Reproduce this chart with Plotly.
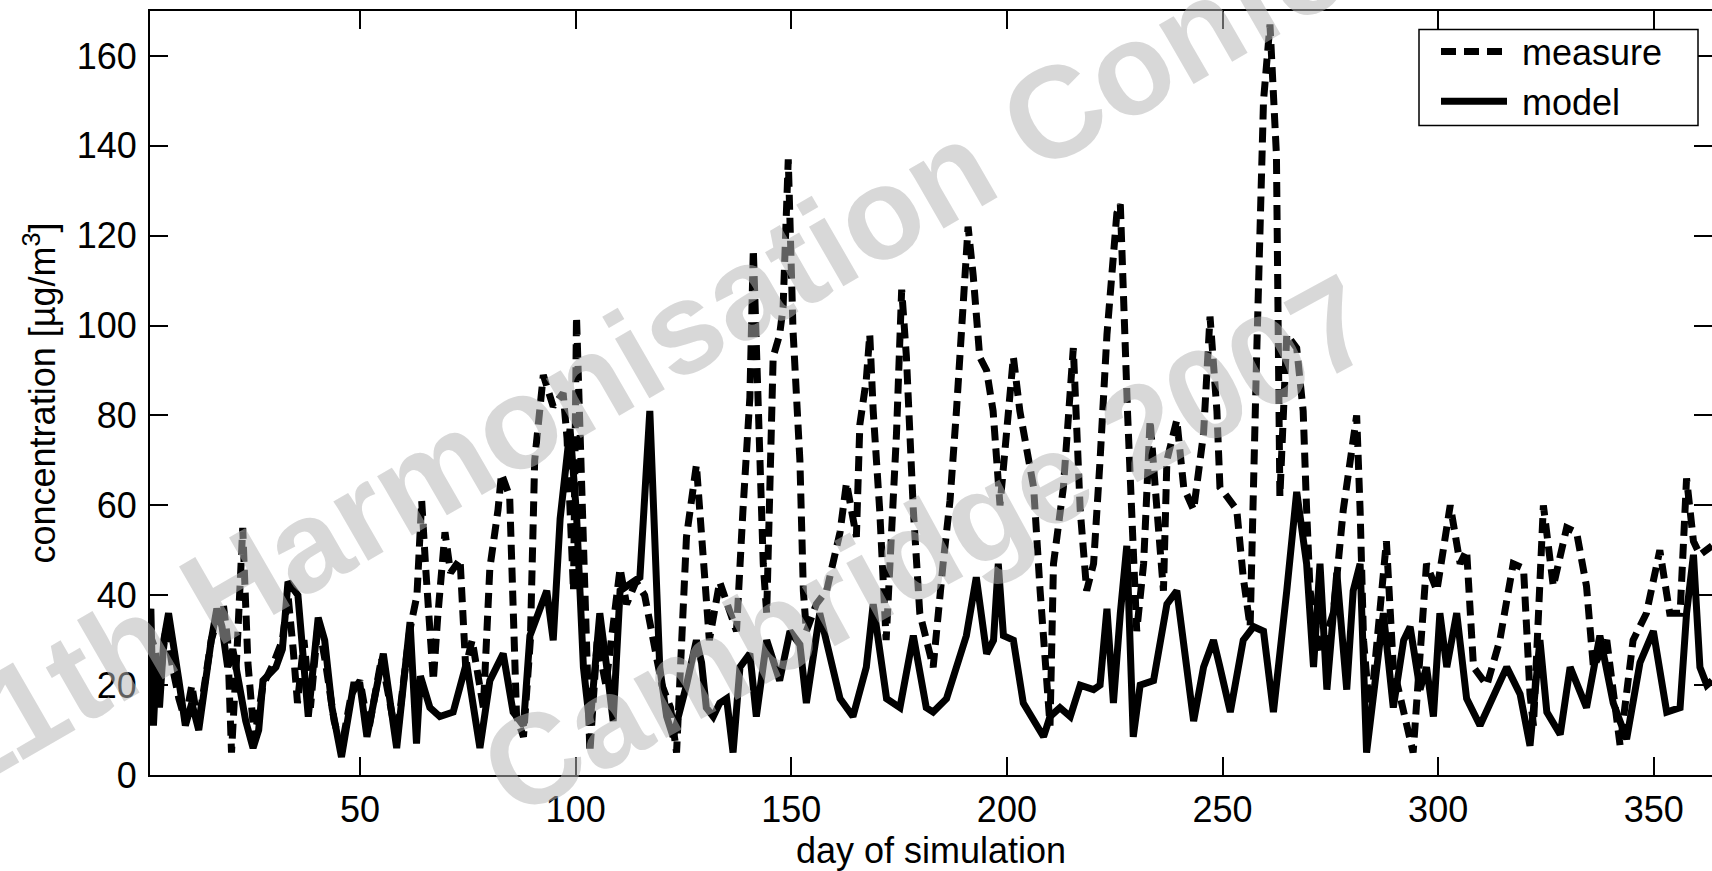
import plotly.graph_objects as go

# ---- data ----
meas_day = [1, 2.5, 3.5, 5, 6.5, 8, 9.5, 11, 12.5, 14,
            15.5, 17, 18.3, 19.3, 20.2, 21.5, 22.8, 24, 25.5, 27.5,
            30, 32, 33.3, 34.5, 35.5, 37, 38.5, 40.3, 42, 44,
            45.7, 48, 50, 52, 55, 58.5, 61.5, 63.2, 64.3, 65.3,
            67, 68, 69.7, 71, 73.2, 74.5, 76, 78.6, 80.1, 82,
            82.8, 84.7, 86.3, 87.9, 89.5, 90.5, 92.5, 94.8, 97.1, 98,
            99.5, 100.2, 101.8, 103.3, 105, 107, 110.3, 111.8, 114, 116,
            120, 122, 123.4, 125.7, 128, 129.5, 131, 133.4, 135, 137.3,
            138.8, 140.4, 141.2, 142.3, 143.5, 144.3, 145, 145.8, 147.3, 148.1,
            149.3, 150.4, 152, 152.8, 153.5, 155.8, 158.2, 161.3, 162.8, 165.1,
            165.9, 167.4, 168.2, 169, 170.5, 172, 174.4, 175.6, 176.7, 178.3,
            179.8, 182.9, 185.2, 186.8, 188.3, 189.9, 191, 192.2, 193.7, 195.3,
            196.8, 198.4, 201.5, 203, 204.6, 206.2, 207.7, 209.3, 210, 210.8,
            213.1, 215.4, 217, 218.5, 220.1, 221.6, 223.2, 225.5, 226.3, 228,
            230.1, 231.7, 233.2, 234.8, 236.3, 237.1, 239.4, 241, 243.3, 245.6,
            247.1, 248.7, 249.4, 251, 253.3, 254.8, 256.4, 257.9, 259.5, 261,
            262.5, 263.3, 264.9, 267.2, 268.7, 269.5, 270.3, 272.6, 275.7, 278,
            281.1, 281.9, 282.7, 284.2, 288, 289.6, 292.7, 294.2, 297.3, 299.7,
            302.8, 305.1, 306.6, 308.2, 311.3, 314.3, 317.4, 319.8, 321.3, 322.1,
            324.4, 326.7, 329.8, 332.1, 334.4, 336, 339.1, 342.2, 345.2, 348.3,
            351.4, 353.7, 356.1, 357.6, 359.2, 360.7, 363.5]
meas_val = [32, 28, 20, 33, 24, 17, 12, 20, 11, 22,
            30, 35, 38, 30, 5, 28, 55, 25, 8, 20,
            25, 30, 40, 28, 16, 30, 15, 34, 25, 12,
            6, 18, 21, 10, 26, 8, 32, 40, 61, 45,
            21, 35, 54, 45, 48, 24, 30, 15, 46, 59,
            67, 62, 13, 8.5, 30, 70, 89, 82, 85, 75,
            41, 102, 52, 5, 30, 20, 46, 38, 43, 40,
            20, 15, 5, 53, 69, 47, 30, 43, 38, 32,
            59, 84, 117, 81, 47, 36, 64, 93, 98, 104,
            137, 99, 70, 41, 32, 38, 41, 54, 65, 53,
            78, 88, 98, 81, 59, 30, 76, 108, 93, 59,
            36, 24, 47, 61, 81, 104, 122, 111, 93, 90,
            81, 60, 93, 81, 73, 64, 41, 19, 11, 47,
            64, 95, 59, 41, 47, 70, 98, 125, 127, 80,
            32, 47, 79, 59, 41, 70, 79, 64, 59, 76,
            102, 81, 64, 62, 59, 44, 33, 93, 150, 167,
            138, 62, 98, 95, 81, 59, 41, 27, 36, 59,
            80, 59, 30, 13, 52, 24, 11, 5, 47, 41,
            60, 47, 50, 24, 20, 30, 47, 46, 18, 11,
            60, 42, 55, 54, 42, 24, 30, 6.5, 30, 36,
            50, 36, 36, 66, 52, 49, 51]

model_day = [1, 1.5, 2.1, 2.8, 3.5, 4.5, 5.6, 7, 8, 9.5,
             11, 12.6, 14, 15.5, 16.8, 18, 19.3, 20.5, 22, 23.5,
             25.2, 26.5, 27.5, 30.5, 32, 33.3, 35.6, 38, 40.3, 41.8,
             43.5, 45.7, 48.5, 50, 51.6, 55.4, 58.5, 61.6, 63.1, 64,
             66.2, 68.5, 71.6, 74.7, 77.8, 80.1, 83.2, 85.5, 87.9, 89.4,
             93.3, 94.8, 96.4, 98.7, 100.2, 101.8, 103.3, 105.6, 107.2, 108.7,
             110.3, 114.9, 117.2, 118.8, 119.5, 121.1, 122.6, 125.7, 128, 129.2,
             130.3, 131.9, 133.4, 135, 136.5, 138.1, 140.4, 141.9, 144.3, 147.3,
             149.7, 152, 153.5, 156.6, 159.7, 161.3, 164.3, 167.4, 169, 172.1,
             175.2, 178.3, 181.3, 182.9, 186, 188.3, 190.6, 192.9, 195.3, 196.9,
             198, 199.2, 201.5, 203.8, 206.9, 208.5, 210, 212.3, 214.7, 217,
             220.1, 221.6, 223.2, 224.7, 226.3, 227.8, 229.3, 230.9, 234, 237.1,
             239.4, 241.7, 243.3, 245.6, 247.9, 249.4, 251.8, 254.8, 257.2, 259.5,
             261.8, 264.9, 267.2, 269.5, 271.1, 272.6, 274.2, 276.5, 278.8, 280.3,
             281.9, 283.4, 285, 287.3, 289.6, 292, 293.5, 295.8, 297.3, 298.9,
             300.4, 302, 304.3, 306.6, 309.7, 312, 315.9, 319, 321.3, 323.6,
             325.2, 328.3, 330.6, 334.4, 337.5, 340.6, 343.7, 346.8, 349.9, 353,
             356.1, 357.6, 359.2, 360.7, 362.3, 363.5]
model_val = [30, 37, 11, 25, 15, 30, 36, 28, 21, 11,
             16, 10, 20, 30, 37, 33, 24, 28, 20, 12,
             6, 10, 21, 24, 28, 43, 40, 13, 35, 30,
             15, 4, 20, 20, 8.5, 27, 6, 34, 7, 22,
             15, 13, 14, 25, 6, 21, 27, 14, 11, 31,
             41, 30, 57, 77, 58, 24, 11, 36, 24, 12,
             41, 44, 81, 47, 24, 13, 8.5, 20, 30, 25,
             15, 13, 16, 17, 5, 24, 27, 13, 30, 21,
             32, 29, 16, 36, 24, 17, 13, 24, 38, 17,
             15, 31, 15, 14, 17, 24, 31, 44, 27, 30,
             47, 31, 30, 16, 11, 8.5, 13, 15, 13, 20,
             19, 20, 37, 16, 36, 51, 8.5, 20, 21, 38,
             41, 24, 12, 24, 30, 24, 14, 30, 33, 32,
             14, 41, 63, 47, 24, 47, 19, 45, 19, 41,
             47, 5, 19, 36, 15, 30, 33, 19, 24, 13,
             36, 24, 36, 17, 11, 16, 24, 18, 6.5, 30,
             14, 9, 24, 15, 31, 16, 8, 25, 32, 14,
             15, 36, 49, 24, 20, 21]

x_ticks = [50, 100, 150, 200, 250, 300, 350]
y_ticks = [0, 20, 40, 60, 80, 100, 120, 140, 160]

W, H = 1712, 871
ML, MR, MT, MB = 150, 0, 11, 96
PW, PH = W - ML - MR, H - MT - MB

def px(xp):
    return (xp - ML) / PW

def py(yp):
    return (H - MB - yp) / PH

FONT = "Liberation Sans, Arial, Helvetica, sans-serif"

fig = go.Figure()
fig.add_trace(go.Scatter(x=meas_day, y=meas_val, mode="lines", name="\u00a0measure\u00a0",
                         line=dict(color="black", width=7, dash="15px,8px")))
fig.add_trace(go.Scatter(x=model_day, y=model_val, mode="lines", name="\u00a0model",
                         line=dict(color="black", width=7)))

axis_common = dict(showline=True, linecolor="black", linewidth=2, mirror="ticks",
                   ticks="inside", ticklen=18, tickwidth=2, tickcolor="black",
                   showgrid=False, zeroline=False, automargin=False,
                   tickfont=dict(family=FONT, size=36, color="black"))

fig.update_layout(
    width=W, height=H,
    margin=dict(l=ML, r=MR, t=MT, b=MB, autoexpand=False),
    paper_bgcolor="white", plot_bgcolor="white",
    font=dict(family=FONT, size=36, color="black"),
    xaxis=dict(range=[1.3, 363.5], tickvals=x_ticks, ticklabelstandoff=2,
               title=dict(text="day of simulation", font=dict(family=FONT, size=36),
                          standoff=13),
               **axis_common),
    yaxis=dict(range=[0, 170], tickvals=y_ticks, ticklabelstandoff=4,
               title=dict(text="concentration [\u00b5g/m<sup>3</sup>]",
                          font=dict(family=FONT, size=36), standoff=10),
               **axis_common),
    showlegend=True,
    legend=dict(x=px(1436), y=py(21.5), xanchor="left", yanchor="top",
                borderwidth=0, bgcolor="rgba(0,0,0,0)",
                font=dict(family=FONT, size=36, color="black"),
                itemwidth=66, tracegroupgap=0),
)

# legend frame (white box with thin black border, as in the reference)
fig.add_shape(type="rect", xref="paper", yref="paper",
              x0=px(1419), x1=px(1698), y0=py(125.6), y1=py(29.5),
              line=dict(color="black", width=1.5), fillcolor="white", layer="above")

wm_color = "rgba(181,181,181,0.53)"
fig.add_annotation(text="<b>11th Harmonisation Conference</b>", xref="paper", yref="paper",
                   x=px(785), y=py(268), xanchor="center", yanchor="middle",
                   textangle=-30, showarrow=False,
                   font=dict(family=FONT, size=130, color=wm_color))
fig.add_annotation(text="<b>Cambridge 2007</b>", xref="paper", yref="paper",
                   x=px(927), y=py(545), xanchor="center", yanchor="middle",
                   textangle=-28.5, showarrow=False,
                   font=dict(family=FONT, size=128, color=wm_color))

fig.write_html("out.html",
               config={"displayModeBar": False},
               post_script="document.body.style.margin='0';"
                           "document.body.style.overflow='hidden';")
